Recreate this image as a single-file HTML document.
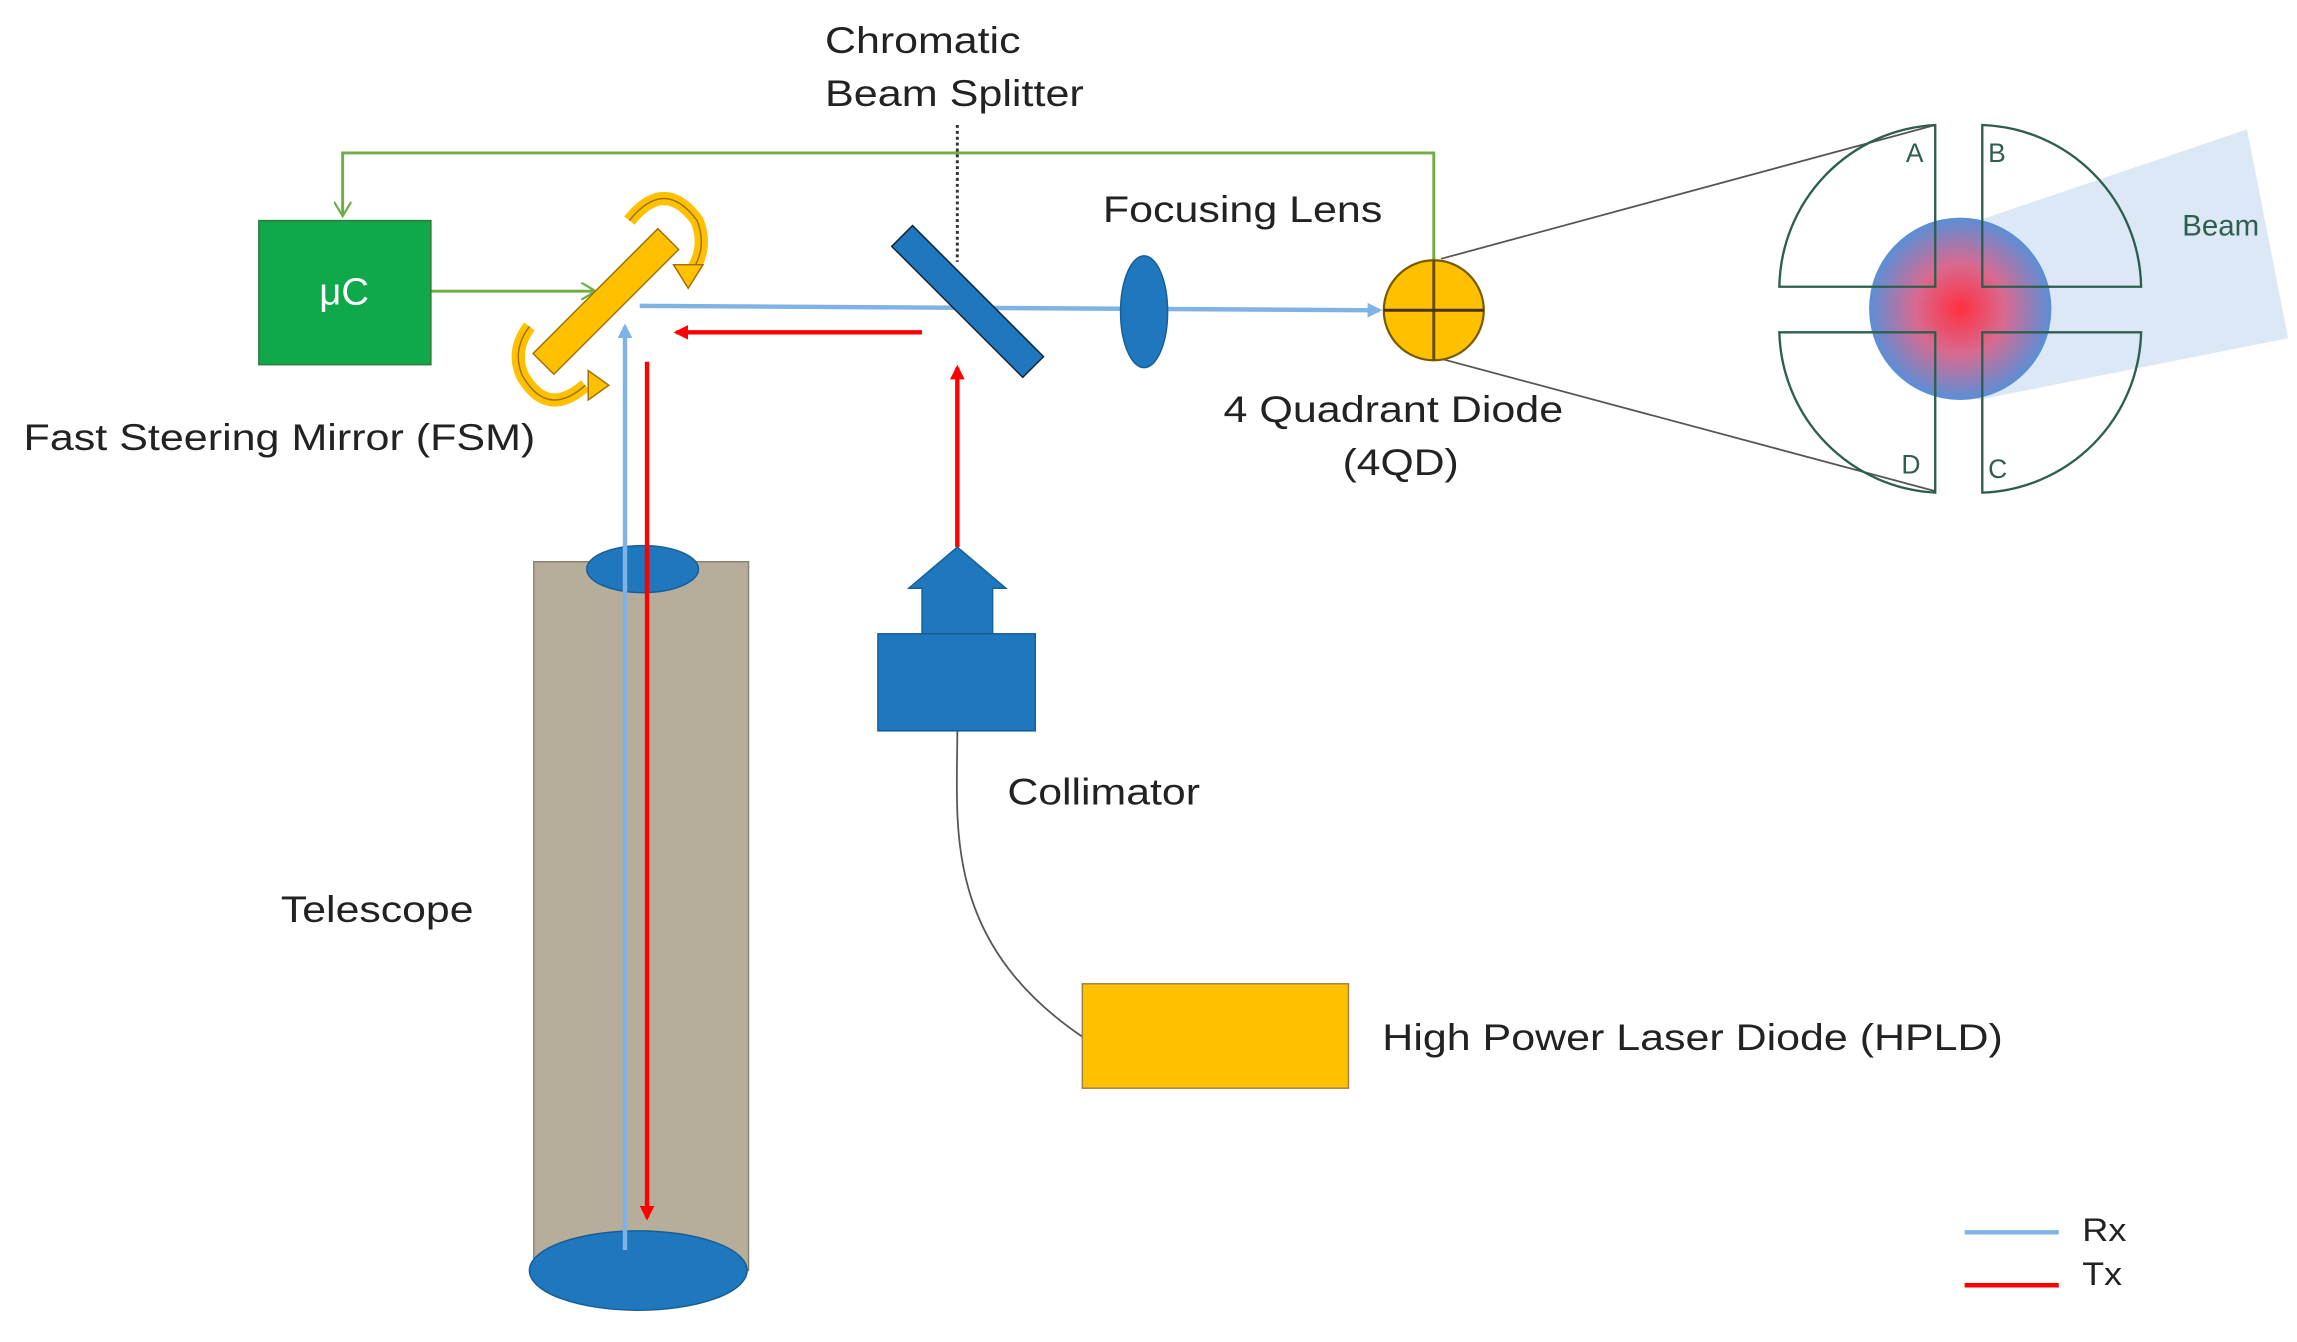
<!DOCTYPE html>
<html><head><meta charset="utf-8"><style>html,body{margin:0;padding:0;background:#fff}svg{display:block}</style></head>
<body>
<svg width="2297" height="1342" viewBox="0 0 1562 912.6" xmlns="http://www.w3.org/2000/svg" font-family="Liberation Sans, sans-serif">
<defs>
<radialGradient id="g" cx="0.5" cy="0.5" r="0.5">
<stop offset="0" stop-color="#ff3040"/><stop offset="0.5" stop-color="#d86a90"/><stop offset="1" stop-color="#5a8fd6"/></radialGradient>
<marker id="ab" markerWidth="10" markerHeight="10" refX="8" refY="5" orient="auto" markerUnits="userSpaceOnUse"><path d="M0,0 L10,5 L0,10 z" fill="#7fb2e5"/></marker>
<marker id="ar" markerWidth="10" markerHeight="10" refX="8" refY="5" orient="auto" markerUnits="userSpaceOnUse"><path d="M0,0 L10,5 L0,10 z" fill="#ff0000"/></marker>
<marker id="ag" markerWidth="12" markerHeight="12" refX="10" refY="6" orient="auto" markerUnits="userSpaceOnUse"><path d="M0,0 L10,6 L0,12" fill="none" stroke="#70ad47" stroke-width="1.5"/></marker>
</defs>
<polygon points="1345,150 1528,88 1556,230 1345,272" fill="#dce8f5"/>
<polyline points="975,178 975,104 233,104 233,147" fill="none" stroke="#70ad47" stroke-width="2" marker-end="url(#ag)"/>
<line x1="293" y1="198" x2="405" y2="198" stroke="#70ad47" stroke-width="2" marker-end="url(#ag)"/>
<rect x="176" y="150" width="117" height="98" fill="#0fa84a" stroke="#2e7d32" stroke-width="1"/>
<text x="234" y="207" font-size="26" fill="#fff" text-anchor="middle">μC</text>
<rect x="363" y="382" width="146" height="482" fill="#b6ae9b" stroke="#8a8270" stroke-width="1"/>
<ellipse cx="434" cy="864" rx="74" ry="27" fill="#1f78be" stroke="#155e96"/>
<ellipse cx="437" cy="387" rx="38" ry="16" fill="#1f78be" stroke="#155e96"/>
<line x1="425" y1="850" x2="425" y2="222" stroke="#7fb2e5" stroke-width="3" marker-end="url(#ab)"/>
<line x1="435" y1="208" x2="938" y2="211" stroke="#7fb2e5" stroke-width="3" marker-end="url(#ab)"/>
<line x1="440" y1="246" x2="440" y2="828" stroke="#ff0000" stroke-width="3" marker-end="url(#ar)"/>
<line x1="627" y1="226" x2="460" y2="226" stroke="#ff0000" stroke-width="3" marker-end="url(#ar)"/>
<line x1="651" y1="372" x2="651" y2="250" stroke="#ff0000" stroke-width="3" marker-end="url(#ar)"/>
<rect x="402" y="145" width="20" height="120" fill="#ffc000" stroke="#a07000" transform="rotate(45 412 205)"/>
<path d="M428,150 Q452,120 474,150 Q482,170 468,188" fill="none" stroke="#ffc000" stroke-width="9"/>
<path d="M428,150 Q452,120 474,150 Q482,170 468,188" fill="none" stroke="#a07000" stroke-width="1"/>
<path d="M398,262 Q372,285 355,255 Q348,238 360,222" fill="none" stroke="#ffc000" stroke-width="9"/>
<path d="M398,262 Q372,285 355,255 Q348,238 360,222" fill="none" stroke="#a07000" stroke-width="1"/>
<polygon points="458,180 478,180 468,196" fill="#ffc000" stroke="#a07000"/>
<polygon points="400,252 400,272 414,262" fill="#ffc000" stroke="#a07000"/>
<line x1="651" y1="85" x2="651" y2="178" stroke="#333" stroke-width="2" stroke-dasharray="2,2"/>
<rect x="648" y="142" width="20" height="126" fill="#1f78be" stroke="#123" transform="rotate(-45 658 205)"/>
<ellipse cx="778" cy="212" rx="16" ry="38" fill="#1f78be" stroke="#155e96"/>
<line x1="980" y1="176" x2="1316" y2="85" stroke="#555" stroke-width="1.2"/>
<line x1="980" y1="244" x2="1316" y2="334" stroke="#555" stroke-width="1.2"/>
<circle cx="975" cy="211" r="34" fill="#ffc000" stroke="#7a5a00" stroke-width="1.5"/>
<line x1="975" y1="177" x2="975" y2="245" stroke="#6a4a00" stroke-width="2"/>
<line x1="941" y1="211" x2="1009" y2="211" stroke="#4a3300" stroke-width="2"/>
<g fill="none" stroke="#2e5e4e" stroke-width="1.6">
<path d="M1316,85 L1316,195 L1210,195 A112,112 0 0 1 1316,85 Z"/>
<path d="M1348,85 L1348,195 L1456,195 A112,112 0 0 0 1348,85 Z"/>
<path d="M1316,335 L1316,226 L1210,226 A112,112 0 0 0 1316,335 Z"/>
<path d="M1348,335 L1348,226 L1456,226 A112,112 0 0 1 1348,335 Z"/>
</g>
<circle cx="1333" cy="210" r="62" fill="url(#g)"/>
<g stroke="#2e5e4e" stroke-width="1.6" fill="none">
<path d="M1316,150 L1316,195 L1272,195"/><path d="M1348,150 L1348,195 L1394,195"/>
<path d="M1316,270 L1316,226 L1272,226"/><path d="M1348,270 L1348,226 L1394,226"/>
</g>
<g font-size="18" fill="#2e5e4e">
<text x="1296" y="110">A</text><text x="1352" y="110">B</text>
<text x="1293" y="322">D</text><text x="1352" y="325">C</text>
<text x="1484" y="160" font-size="20">Beam</text>
</g>
<path d="M651,497 C651,560 640,640 736,705" fill="none" stroke="#555" stroke-width="1.2"/>
<rect x="597" y="431" width="107" height="66" fill="#1f78be" stroke="#155e96"/>
<polygon points="627,431 627,400 618,400 651,372 684,400 675,400 675,431" fill="#1f78be" stroke="#155e96"/>
<rect x="736" y="669" width="181" height="71" fill="#ffc000" stroke="#a08040"/>
<line x1="1336" y1="838" x2="1400" y2="838" stroke="#7fb2e5" stroke-width="3"/>
<line x1="1336" y1="874" x2="1400" y2="874" stroke="#ff0000" stroke-width="3"/>
<g font-size="25" fill="#222" lengthAdjust="spacingAndGlyphs">
<text x="561" y="36" textLength="133" lengthAdjust="spacingAndGlyphs">Chromatic</text>
<text x="561" y="72" textLength="176" lengthAdjust="spacingAndGlyphs">Beam Splitter</text>
<text x="750" y="151" textLength="190" lengthAdjust="spacingAndGlyphs">Focusing Lens</text>
<text x="16" y="306" textLength="348" lengthAdjust="spacingAndGlyphs">Fast Steering Mirror (FSM)</text>
<text x="832" y="287" textLength="231" lengthAdjust="spacingAndGlyphs">4 Quadrant Diode</text>
<text x="913" y="323" textLength="79" lengthAdjust="spacingAndGlyphs">(4QD)</text>
<text x="685" y="547" textLength="131" lengthAdjust="spacingAndGlyphs">Collimator</text>
<text x="191" y="627" textLength="131" lengthAdjust="spacingAndGlyphs">Telescope</text>
<text x="940" y="714" textLength="422" lengthAdjust="spacingAndGlyphs">High Power Laser Diode (HPLD)</text>
<text x="1416" y="844" font-size="22" textLength="30" lengthAdjust="spacingAndGlyphs">Rx</text>
<text x="1416" y="874" font-size="22" textLength="27" lengthAdjust="spacingAndGlyphs">Tx</text>
</g>
</svg>
</body></html>
